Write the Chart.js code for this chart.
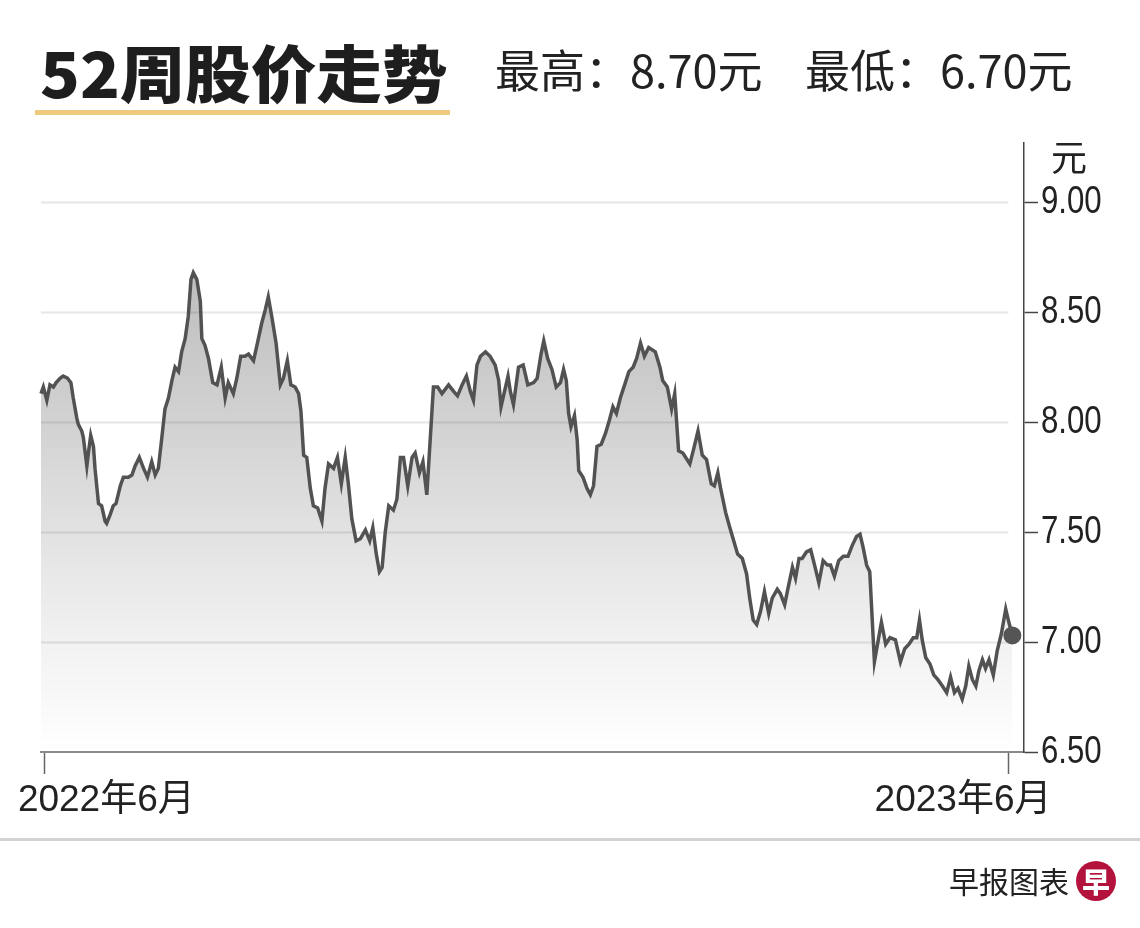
<!DOCTYPE html>
<html>
<head>
<meta charset="utf-8">
<script src="https://cdn.jsdelivr.net/npm/chart.js@4"></script>
<style>
  body { margin: 0; background: #fff; }
  #wrap { position: relative; width: 1140px; height: 928px; overflow: hidden; background: #fff; }
  #c { position: absolute; left: 0; top: 0; }
  .txt { position: absolute; white-space: nowrap; line-height: 1; color: #222; font-family: 'Noto Sans CJK SC', 'Liberation Sans', sans-serif; }
  #title { left: 40px; top: 40px; font-size: 62px; font-weight: 900; color: #1e1e1e; transform-origin: 0 50%; }
  #titleLine { position: absolute; left: 35px; top: 110px; width: 415px; height: 5px; background: #efc97e; }
  .sub { top: 46px; font-size: 45px; font-weight: 400; }
  #subHi { left: 495px; }
  #subLo { left: 805px; }
  #sep { position: absolute; left: 0; top: 838px; width: 1140px; height: 3px; background: #d2d2d2; }
  #src { left: 949px; top: 865px; font-size: 30px; }
  #logo { position: absolute; left: 1076px; top: 861px; width: 40px; height: 40px; border-radius: 50%; background: #b3123c;
          color: #fff; font: 900 28px 'Noto Sans CJK SC', sans-serif; text-align: center; line-height: 40px; }
</style>
</head>
<body>
<div id="wrap">
  <canvas id="c" width="1140" height="928"></canvas>
  <div id="title" class="txt">52周股价走势</div>
  <div id="titleLine"></div>
  <div id="subHi" class="txt sub">最高：8.70元</div>
  <div id="subLo" class="txt sub">最低：6.70元</div>
  <div id="sep"></div>
  <div id="src" class="txt">早报图表</div>
  <div id="logo">早</div>
</div>
<script>
// 交易日序号 (0 = 2022年6月首个交易日)
const tradeDays = [
  0, 0.6, 1.5, 2.3, 3.2, 3.9, 4.9, 5.7, 6.8, 7.7,
  8.3, 9.2, 9.6, 10.5, 10.9, 11.8, 12.2, 12.8, 13.5, 13.9,
  14.4, 14.8, 15.6, 16.5, 16.9, 17.8, 18.6, 19.3, 20.4, 21.2,
  22.5, 23.4, 24.2, 25.3, 26.4, 27.4, 28.5, 29.4, 30.2, 31.1,
  31.9, 32.8, 33.7, 34.5, 35.4, 36.2, 37.1, 37.9, 38.6, 39.2,
  40.1, 41.0, 41.4, 42.2, 43.1, 44.2, 45.3, 46.4, 47.4, 48.2,
  49.5, 50.4, 51.4, 52.5, 53.4, 54.7, 55.7, 56.8, 57.7, 58.5,
  59.4, 60.5, 61.6, 62.4, 63.4, 64.3, 65.4, 66.3, 66.9, 67.6,
  68.4, 69.3, 70.1, 71.2, 72.3, 73.1, 74.0, 75.3, 76.3, 77.3,
  78.3, 79.1, 80.0, 81.1, 82.2, 83.5, 84.6, 85.4, 86.3, 87.1,
  87.8, 88.6, 89.5, 90.7, 91.6, 92.5, 93.3, 94.4, 95.5, 96.3,
  97.4, 98.3, 99.3, 101.0, 102.1, 103.2, 104.9, 106.2, 107.2, 108.4,
  109.5, 110.5, 111.3, 112.2, 113.1, 114.4, 115.6, 116.9, 117.8, 118.4,
  119.3, 120.2, 120.8, 121.6, 122.9, 124.1, 125.3, 126.8, 127.7, 128.7,
  129.4, 130.4, 131.5, 132.6, 133.7, 134.5, 135.2, 135.8, 136.4, 137.3,
  138.0, 138.4, 139.5, 140.5, 141.4, 142.2, 143.1, 144.2, 145.3, 146.3,
  147.2, 148.1, 149.1, 150.4, 151.3, 152.4, 153.3, 154.3, 155.3, 156.4,
  158.1, 159.3, 160.0, 161.2, 162.3, 163.1, 164.1, 165.2, 167.0, 168.0,
  169.1, 170.2, 171.3, 172.5, 173.3, 174.2, 174.9, 176.2, 177.3, 178.3,
  179.3, 180.5, 181.6, 182.4, 183.3, 184.2, 185.2, 186.2, 187.3, 188.2,
  189.5, 190.3, 191.4, 192.2, 193.4, 194.2, 195.1, 195.9, 197.0, 198.1,
  199.1, 200.2, 201.3, 202.4, 203.2, 204.2, 205.3, 206.5, 207.7, 208.8,
  209.9, 210.8, 211.6, 212.5, 213.3, 214.5, 215.4, 216.3, 217.4, 218.5,
  219.9, 221.2, 222.3, 223.4, 224.5, 225.4, 226.1, 226.8, 227.7, 228.8,
  229.8, 230.8, 232.0, 233.1, 234.1, 235.1, 236.0, 237.1, 238.0, 238.8,
  239.7, 240.6, 241.4, 242.3, 243.1, 244.0, 245.1, 246.1, 247.2, 248.3,
  249.1, 250.0
];

// 收盘价 (元)
const closePrice = [
  8.13, 8.16, 8.10, 8.17, 8.16, 8.18, 8.20, 8.21, 8.20, 8.18,
  8.11, 8.02, 7.99, 7.96, 7.93, 7.80, 7.86, 7.94, 7.89, 7.79,
  7.70, 7.63, 7.62, 7.55, 7.54, 7.58, 7.62, 7.63, 7.71, 7.75,
  7.75, 7.76, 7.80, 7.84, 7.79, 7.75, 7.82, 7.76, 7.79, 7.93,
  8.06, 8.11, 8.19, 8.25, 8.23, 8.32, 8.38, 8.48, 8.65, 8.68,
  8.65, 8.55, 8.38, 8.35, 8.29, 8.18, 8.17, 8.25, 8.11, 8.18,
  8.13, 8.20, 8.30, 8.30, 8.31, 8.28, 8.36, 8.45, 8.51, 8.57,
  8.48, 8.36, 8.17, 8.20, 8.28, 8.17, 8.16, 8.13, 8.05, 7.85,
  7.84, 7.70, 7.62, 7.61, 7.55, 7.70, 7.81, 7.79, 7.84, 7.72,
  7.84, 7.72, 7.56, 7.46, 7.47, 7.51, 7.46, 7.52, 7.40, 7.32,
  7.34, 7.50, 7.62, 7.60, 7.65, 7.84, 7.84, 7.71, 7.84, 7.86,
  7.77, 7.82, 7.67, 8.16, 8.16, 8.13, 8.17, 8.14, 8.12, 8.17,
  8.21, 8.14, 8.10, 8.26, 8.30, 8.32, 8.30, 8.26, 8.19, 8.07,
  8.14, 8.21, 8.14, 8.08, 8.25, 8.26, 8.17, 8.18, 8.20, 8.31,
  8.37, 8.29, 8.24, 8.16, 8.18, 8.24, 8.19, 8.04, 7.98, 8.03,
  7.92, 7.78, 7.75, 7.70, 7.67, 7.71, 7.89, 7.90, 7.95, 8.01,
  8.07, 8.04, 8.11, 8.18, 8.23, 8.25, 8.29, 8.36, 8.30, 8.34,
  8.32, 8.25, 8.19, 8.16, 8.06, 8.13, 7.87, 7.86, 7.81, 7.88,
  7.96, 7.85, 7.83, 7.72, 7.71, 7.77, 7.70, 7.59, 7.52, 7.46,
  7.40, 7.38, 7.31, 7.20, 7.10, 7.08, 7.14, 7.23, 7.13, 7.20,
  7.24, 7.22, 7.17, 7.24, 7.34, 7.29, 7.38, 7.38, 7.41, 7.42,
  7.35, 7.27, 7.37, 7.35, 7.35, 7.30, 7.37, 7.39, 7.39, 7.44,
  7.48, 7.49, 7.43, 7.35, 7.32, 6.91, 7.00, 7.09, 6.99, 7.02,
  7.01, 6.91, 6.97, 6.99, 7.02, 7.02, 7.10, 7.01, 6.93, 6.90,
  6.85, 6.83, 6.80, 6.77, 6.84, 6.77, 6.79, 6.74, 6.80, 6.89,
  6.83, 6.80, 6.87, 6.92, 6.88, 6.92, 6.85, 6.96, 7.04, 7.15,
  7.09, 7.03
];

const yTickValues = [6.5, 7.0, 7.5, 8.0, 8.5, 9.0];
const xTickDays = [1, 249];
const xTickLabels = ['2022年6月', '2023年6月'];
const unitLabel = '元';

const NUM_FONT = "'Liberation Sans', 'Noto Sans CJK SC', sans-serif";

// 标题横向拉宽到参考宽度
const titleEl = document.getElementById('title');
titleEl.style.transform = 'scaleX(' + (408 / titleEl.offsetWidth) + ')';

// 网格线、坐标文字、单位
const extras = {
  id: 'extras',
  beforeDatasetsDraw(chart) {
    const { ctx, chartArea, scales } = chart;
    const xEnd = scales.x.getPixelForValue(tradeDays[tradeDays.length - 1]) - 4;
    ctx.save();
    ctx.strokeStyle = '#e6e6e6';
    ctx.lineWidth = 2;
    yTickValues.forEach(v => {
      if (v <= scales.y.min) return;
      const y = Math.round(scales.y.getPixelForValue(v)) + 0.5;
      ctx.beginPath();
      ctx.moveTo(chartArea.left, y);
      ctx.lineTo(xEnd, y);
      ctx.stroke();
    });
    ctx.restore();
  },
  afterDraw(chart) {
    const { ctx, chartArea, scales } = chart;
    ctx.save();
    ctx.fillStyle = '#222';
    ctx.font = '37px ' + NUM_FONT;
    ctx.textBaseline = 'middle';
    xTickDays.forEach((d, i) => {
      const x = scales.x.getPixelForValue(d);
      if (i === 0) {
        ctx.textAlign = 'left';
        ctx.fillText(xTickLabels[i], x - 27, 801);
      } else {
        ctx.textAlign = 'right';
        ctx.fillText(xTickLabels[i], x + 43, 801);
      }
    });

    // 右侧数值标签 (窄体)
    ctx.font = '39px ' + NUM_FONT;
    ctx.textAlign = 'left';
    yTickValues.forEach(v => {
      const y = scales.y.getPixelForValue(v);
      ctx.save();
      ctx.translate(scales.y.left + 17, y);
      ctx.scale(0.8, 1);
      ctx.fillText(v.toFixed(2), 0, 0);
      ctx.restore();
    });

    ctx.font = "36px 'Noto Sans CJK SC', sans-serif";
    ctx.textAlign = 'center';
    ctx.fillText(unitLabel, scales.y.left + 45, chartArea.top + 14);
    ctx.restore();
  }
};

const ctx = document.getElementById('c').getContext('2d');
new Chart(ctx, {
  type: 'line',
  data: {
    datasets: [{
      data: tradeDays.map((d, i) => ({ x: d, y: closePrice[i] })),
      borderColor: '#525252',
      borderWidth: 3.5,
      tension: 0,
      fill: 'start',
      backgroundColor(c) {
        const area = c.chart.chartArea;
        if (!area) return 'rgba(0,0,0,0.1)';
        const yS = c.chart.scales.y;
        const g = c.chart.ctx.createLinearGradient(0, yS.getPixelForValue(8.7), 0, area.bottom);
        g.addColorStop(0, 'rgba(0,0,0,0.26)');
        g.addColorStop(0.35, 'rgba(0,0,0,0.17)');
        g.addColorStop(0.7, 'rgba(0,0,0,0.07)');
        g.addColorStop(1, 'rgba(0,0,0,0.0)');
        return g;
      },
      pointRadius: c => (c.dataIndex === closePrice.length - 1 ? 9 : 0),
      pointBackgroundColor: '#555',
      pointBorderWidth: 0,
      clip: false
    }]
  },
  options: {
    responsive: false,
    animation: false,
    layout: { padding: { left: 41, top: 143, right: 0, bottom: 136 } },
    plugins: { legend: { display: false }, tooltip: { enabled: false } },
    scales: {
      x: {
        type: 'linear',
        min: 0,
        max: 253,
        afterBuildTicks: s => { s.ticks = xTickDays.map(v => ({ value: v })); },
        afterFit: s => { s.height = 40; },
        ticks: { display: false },
        grid: { drawOnChartArea: false, drawTicks: true, tickLength: 22, tickColor: '#666', tickWidth: 1.5 },
        border: { display: true, color: '#8a8a8a', width: 2 }
      },
      y: {
        position: 'right',
        min: 6.5,
        max: 9.27,
        afterBuildTicks: s => { s.ticks = yTickValues.map(v => ({ value: v })); },
        afterFit: s => { s.width = 116; },
        ticks: { display: false },
        grid: { drawOnChartArea: false, drawTicks: true, tickLength: 14, tickColor: '#444', tickWidth: 1.5 },
        border: { display: true, color: '#444', width: 1.5 }
      }
    }
  },
  plugins: [extras]
});
</script>
</body>
</html>
